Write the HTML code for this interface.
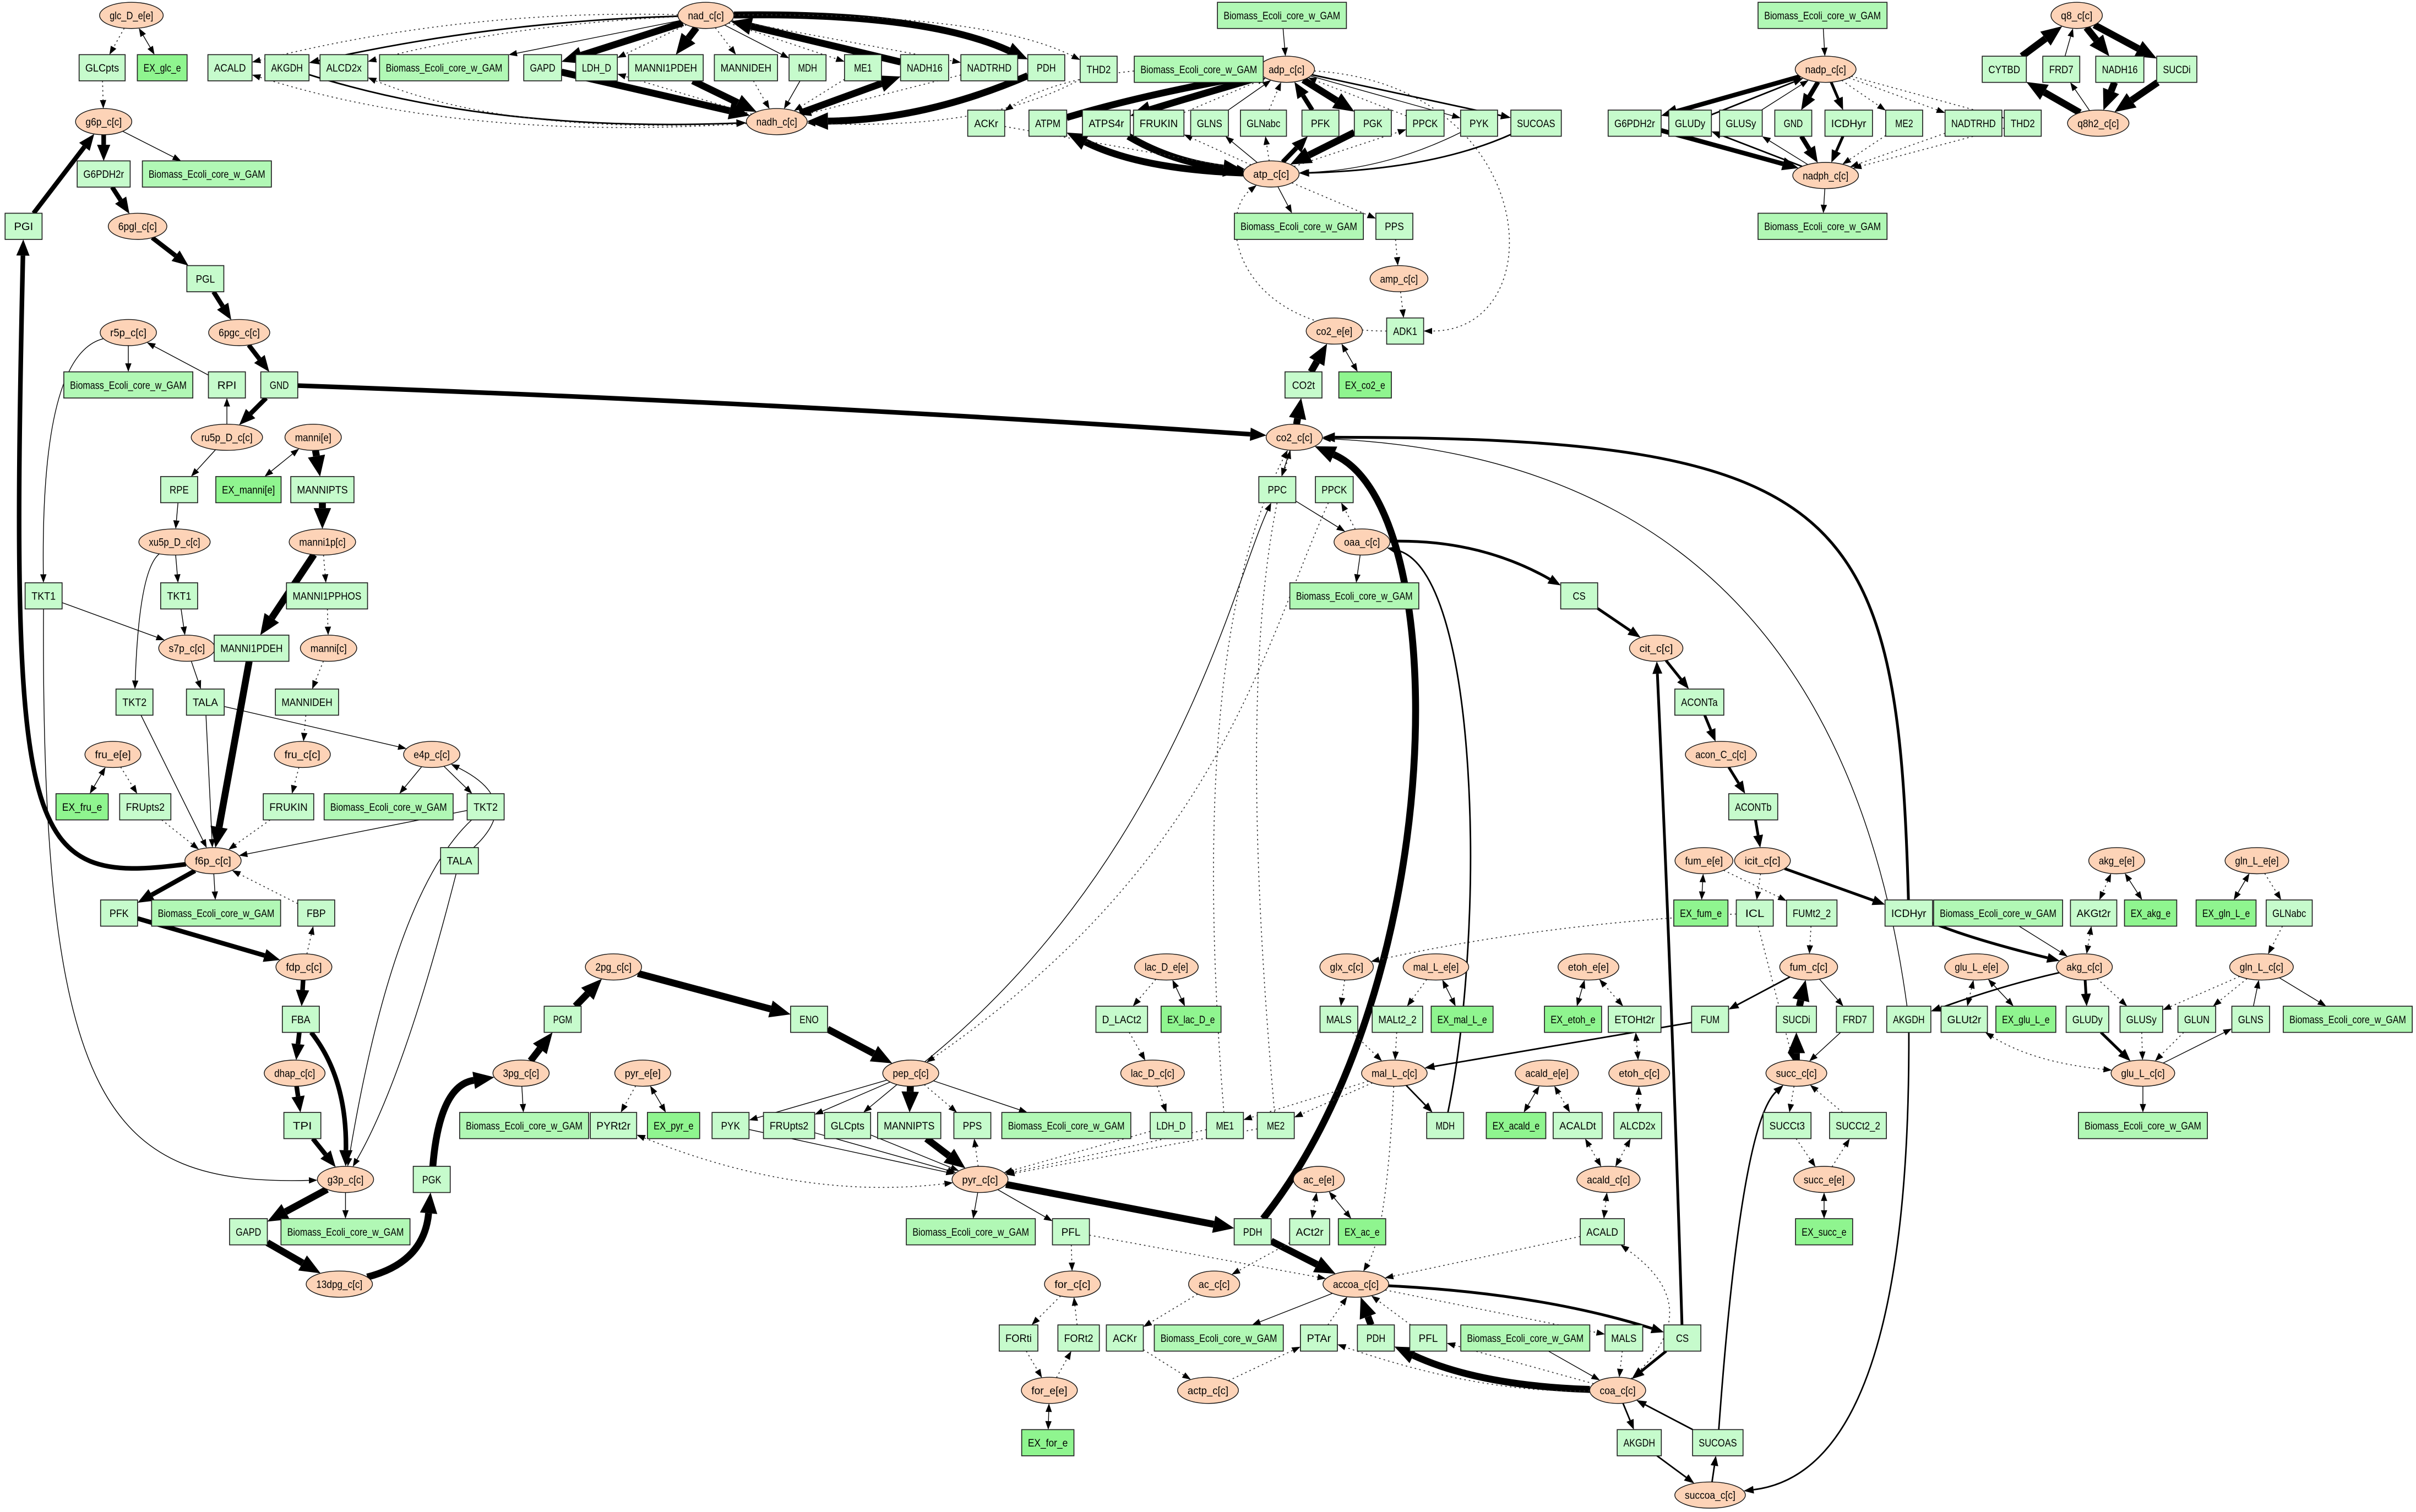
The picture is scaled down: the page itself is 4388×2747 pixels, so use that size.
<!DOCTYPE html>
<html><head><meta charset="utf-8"><style>
html,body{margin:0;padding:0;background:#fff;}
svg{display:block;}
text{font-family:"Liberation Sans",Arial,sans-serif;font-size:7px;fill:#000;}
</style></head><body>
<svg id="g" xmlns="http://www.w3.org/2000/svg" width="4388" height="2747" viewBox="0 0 1568 982"><g id="E"></g><g id="A"></g><g id="N"></g></svg>
<script>
const BM='Biomass_Ecoli_core_w_GAM';
const nodeTxt=`glcDe|glc_D_e[e]|e|85|10
GLCpts|=|b|66|44
EX_glc_e|=|d|105|44
g6p|g6p_c[c]|e|67|79
G6PDH2r|=|b|67|113
bm1|B|m|134|113
PGI|=|b|15|147
6pgl|6pgl_c[c]|e|89|147
PGL|=|b|133|181
6pgc|6pgc_c[c]|e|155|216
GND|=|b|181|250
r5p|r5p_c[c]|e|83|216
bm2|B|m|83|250
RPI|=|b|147|250
ru5p|ru5p_D_c[c]|e|147|284
manni_e|manni[e]|e|203|284
RPE|=|b|116|318
EX_manni|EX_manni[e]|d|161|318
MANNIPTS|=|b|209|318
manni1p|manni1p[c]|e|209|352
xu5p|xu5p_D_c[c]|e|113|352
TKT1a|TKT1|b|28|387
TKT1b|TKT1|b|116|387
MANNI1PPHOS|=|b|212|387
s7p|s7p_c[c]|e|121|421
MANNI1PDEH|=|b|163|421
manni_c|manni[c]|e|213|421
TKT2a|TKT2|b|87|456
TALAa|TALA|b|133|456
MANNIDEH|=|b|199|456
fru_e|fru_e[e]|e|73|490
fru_c|fru_c[c]|e|196|490
e4p|e4p_c[c]|e|280|490
EX_fru_e|=|d|53|524
FRUpts2|=|b|94|524
FRUKIN|=|b|187|524
bm10|B|m|252|524
TKT2b|TKT2|b|315|524
TALAb|TALA|b|298|559
f6p|f6p_c[c]|e|138|559
PFK|=|b|77|593
bm11|B|m|140|593
FBP|=|b|205|593
fdp|fdp_c[c]|e|197|628
FBA|=|b|195|662
dhap|dhap_c[c]|e|191|697
TPI|=|b|196|731
g3p|g3p_c[c]|e|224|766
GAPDb|GAPD|b|161|800
bm12|B|m|224|800
13dpg|13dpg_c[c]|e|220|834
PGKb|PGK|b|280|766
3pg|3pg_c[c]|e|338|697
bm13|B|m|340|731
PGM|=|b|365|662
2pg|2pg_c[c]|e|398|628
ENO|=|b|525|662
pep|pep_c[c]|e|591|697
bm14|B|m|692|731
PPSb|PPS|b|631|731
MANNIPTSb|MANNIPTS|b|590|731
GLCptsb|GLCpts|b|550|731
FRUpts2b|FRUpts2|b|512|731
PYKb|PYK|b|474|731
pyr_e|pyr_e[e]|e|417|697
PYRt2r|=|b|398|731
EX_pyr_e|=|d|437|731
pyr|pyr_c[c]|e|636|766
lac_e|lac_D_e[e]|e|757|628
D_LACt2|=|b|728|662
EX_lac_D_e|=|d|773|662
lac_c|lac_D_c[c]|e|748|697
LDH_Db|LDH_D|b|760|731
ME1b|ME1|b|795|731
ME2b|ME2|b|828|731
bm15|B|m|630|800
PFLb|PFL|b|695|800
PDHb|PDH|b|813|800
for_c|for_c[c]|e|696|834
FORti|=|b|661|869
FORt2|=|b|700|869
for_e|for_e[e]|e|681|903
EX_for_e|=|d|680|937
ac_e|ac_e[e]|e|856|766
ACt2r|=|b|850|800
EX_ac_e|=|d|884|800
ac_c|ac_c[c]|e|788|834
ACKrb|ACKr|b|730|869
bm16|B|m|791|869
actp|actp_c[c]|e|784|903
accoa|accoa_c[c]|e|880|834
PTAr|=|b|856|869
PDHc|PDH|b|893|869
PFLc|PFL|b|927|869
bm17|B|m|990|869
MALSb|MALS|b|1054|869
CSb|CS|b|1092|869
coa|coa_c[c]|e|1050|903
AKGDHc|AKGDH|b|1064|937
SUCOASb|SUCOAS|b|1115|937
succoa|succoa_c[c]|e|1110|971
ACALDb|ACALD|b|1040|800
acald_c|acald_c[c]|e|1044|766
ALCD2xb|ALCD2x|b|1063|731
ACALDt|=|b|1024|731
EX_acald_e|=|d|984|731
acald_e|acald_e[e]|e|1004|697
etoh_c|etoh_c[c]|e|1064|697
ETOHt2r|=|b|1061|662
EX_etoh_e|=|d|1021|662
etoh_e|etoh_e[e]|e|1031|628
mal_e|mal_L_e[e]|e|932|628
MALt2_2|=|b|907|662
EX_mal_L_e|=|d|949|662
glx|glx_c[c]|e|874|628
MALS|=|b|869|662
mal_c|mal_L_c[c]|e|905|697
MDHb|MDH|b|938|731
fum_e|fum_e[e]|e|1106|559
EX_fum_e|=|d|1104|593
ICL|=|b|1139|593
FUMt2_2|=|b|1176|593
fum_c|fum_c[c]|e|1174|628
FUM|=|b|1110|662
SUCDi|=|b|1166|662
FRD7|=|b|1204|662
succ_c|succ_c[c]|e|1166|697
SUCCt3|=|b|1160|731
SUCCt2_2|=|b|1206|731
succ_e|succ_e[e]|e|1184|766
EX_succ_e|=|d|1184|800
icit|icit_c[c]|e|1144|559
ACONTb|=|b|1138|524
acon|acon_C_c[c]|e|1117|490
ACONTa|=|b|1103|456
cit|cit_c[c]|e|1075|421
CS|=|b|1025|387
oaa|oaa_c[c]|e|884|352
bm7|B|m|879|387
PPC|=|b|829|318
PPCKb|PPCK|b|866|318
co2c|co2_c[c]|e|840|284
CO2t|=|b|846|250
EX_co2_e|=|d|886|250
co2e|co2_e[e]|e|866|215
ADK1|=|b|912|215
amp|amp_c[c]|e|908|181
PPSa|PPS|b|905|147
bm6|B|m|843|147
atp|atp_c[c]|e|825|113
adp|adp_c[c]|e|835|45
bm5|B|m|832|10
bm4|B|m|778|45
THD2a|THD2|b|713|45
ACKra|ACKr|b|640|80
ATPM|=|b|680|80
ATPS4r|=|b|718|80
FRUKINa|FRUKIN|b|752|80
GLNSa|GLNS|b|785|80
GLNabca|GLNabc|b|820|80
PFKa|PFK|b|857|80
PGKa|PGK|b|891|80
PPCKa|PPCK|b|925|80
PYKa|PYK|b|960|80
SUCOASa|SUCOAS|b|997|80
nad|nad_c[c]|e|458|10
nadh|nadh_c[c]|e|504|79
ACALDa|ACALD|b|149|44
AKGDHa|AKGDH|b|186|44
ALCD2xa|ALCD2x|b|223|44
bm3|B|m|288|44
GAPDa|GAPD|b|352|44
LDH_Da|LDH_D|b|387|44
MANNI1PDEHa|MANNI1PDEH|b|432|44
MANNIDEHa|MANNIDEH|b|484|44
MDHa|MDH|b|524|44
ME1a|ME1|b|560|44
NADH16a|NADH16|b|600|44
NADTRHDa|NADTRHD|b|642|44
PDHa|PDH|b|679|44
bm8|B|m|1183|10
nadp|nadp_c[c]|e|1185|45
G6PDH2ra|G6PDH2r|b|1061|80
GLUDya|GLUDy|b|1097|80
GLUSya|GLUSy|b|1130|80
GNDa|GND|b|1164|80
ICDHyra|ICDHyr|b|1200|80
ME2a|ME2|b|1236|80
NADTRHDb|NADTRHD|b|1281|80
THD2b|THD2|b|1313|80
nadph|nadph_c[c]|e|1185|114
bm9|B|m|1183|147
q8|q8_c[c]|e|1348|10
CYTBD|=|b|1301|45
FRD7a|FRD7|b|1338|45
NADH16b|NADH16|b|1376|45
SUCDia|SUCDi|b|1413|45
q8h2|q8h2_c[c]|e|1362|80
akg_e|akg_e[e]|e|1374|559
AKGt2r|=|b|1359|593
EX_akg_e|=|d|1396|593
gln_e|gln_L_e[e]|e|1465|559
EX_gln_L_e|=|d|1445|593
GLNabc|=|b|1486|593
ICDHyr|=|b|1239|593
bm18|B|m|1297|593
akg_c|akg_c[c]|e|1353|628
glu_e|glu_L_e[e]|e|1283|628
gln_c|gln_L_c[c]|e|1468|628
AKGDH|=|b|1239|662
GLUt2r|=|b|1275|662
EX_glu_L_e|=|d|1315|662
GLUDy|=|b|1355|662
GLUSy|=|b|1390|662
GLUN|=|b|1426|662
GLNS|=|b|1461|662
bm19|B|m|1524|662
glu_c|glu_L_c[c]|e|1391|697
bm20|B|m|1391|731`;
const N={};
function cw(c){if(/[A-Z]/.test(c))return 4.3;if(/[0-9]/.test(c))return 3.5;if(/[\[\]_]/.test(c))return 2.6;if(/[mw]/.test(c))return 4.6;if(/[ijl]/.test(c))return 1.6;return 3.3;}
const NS='http://www.w3.org/2000/svg';
function el(t,a,p){const e=document.createElementNS(NS,t);for(const k in a)e.setAttribute(k,a[k]);p.appendChild(e);return e;}
const GN=document.getElementById('N'),GE=document.getElementById('E'),GA=document.getElementById('A');
nodeTxt.split('\n').forEach(l=>{let [id,lab,t,x,y]=l.split('|');if(lab==='=')lab=id;if(lab==='B')lab=BM;x=parseFloat(x);y=parseFloat(y);
 let tw=0;for(const c of lab)tw+=cw(c);tw*=0.96;
 let w,h=17;if(t==='e'){w=tw+13;}else{w=Math.max(24,tw+8);}
 N[id]={x,y,w,h,t};
 if(t==='e')el('ellipse',{cx:x,cy:y,rx:w/2,ry:h/2,fill:'#fdd3b7',stroke:'#111','stroke-width':0.5},GN);
 else el('rect',{x:x-w/2,y:y-h/2,width:w,height:h,fill:t==='d'?'#8ff58f':t==='m'?'#b1f8b5':'#c6fbcc',stroke:'#222','stroke-width':0.6},GN);
 const tx=el('text',{x:x,y:y+2.5,'text-anchor':'middle',textLength:tw.toFixed(1),lengthAdjust:'spacingAndGlyphs'},GN);tx.textContent=lab;
});
function clip(n,px,py){let dx=px-n.x,dy=py-n.y;if(dx===0&&dy===0)dy=1;let t;
 if(n.t==='e'){t=1/Math.sqrt((dx/(n.w/2))**2+(dy/(n.h/2))**2);}else{t=Math.min((n.w/2)/Math.abs(dx||1e-9),(n.h/2)/Math.abs(dy||1e-9));}
 return [n.x+dx*t,n.y+dy*t];}
function arrow(tip,from,w){let dx=tip[0]-from[0],dy=tip[1]-from[1],L=Math.hypot(dx,dy)||1;dx/=L;dy/=L;
 const al=4.5+w*2,hw=1.6+w*0.9;const bx=tip[0]-dx*al,by=tip[1]-dy*al;
 el('polygon',{points:`${tip[0]},${tip[1]} ${bx-dy*hw},${by+dx*hw} ${bx+dy*hw},${by-dx*hw}`,fill:'#000'},GA);
 return [bx,by];}
function E(a,b,w,st,cx,cy,dx2,dy2){const A=N[a],B=N[b];if(!A||!B)return;const dot=st&&st.indexOf('d')>=0,bi=st&&st.indexOf('b')>=0;
 const hasC=cx!==undefined,cub=dx2!==undefined;
 const c1=hasC?[cx,cy]:[B.x,B.y];const c2=cub?[dx2,dy2]:(hasC?[cx,cy]:[A.x,A.y]);
 let p0=clip(A,c1[0],c1[1]),p1=clip(B,c2[0],c2[1]);
 let e1=arrow(p1,hasC?c2:p0,dot?0.5:w);let s0=p0;if(bi)s0=arrow(p0,hasC?c1:p1,dot?0.5:w);
 let d=cub?`M${s0[0]},${s0[1]} C${cx},${cy} ${dx2},${dy2} ${e1[0]},${e1[1]}`:hasC?`M${s0[0]},${s0[1]} Q${cx},${cy} ${e1[0]},${e1[1]}`:`M${s0[0]},${s0[1]} L${e1[0]},${e1[1]}`;
 el('path',{d,fill:'none',stroke:dot?'#333':'#000','stroke-width':dot?0.6:w,'stroke-dasharray':dot?'1 2':'none'},GE);}
const T=0.5,M=1.0,K=1.8,H=3,X=4.5;
E('glcDe','GLCpts',T,'d');E('glcDe','EX_glc_e',T,'b');E('GLCpts','g6p',T,'d');
E('g6p','G6PDH2r',H);E('g6p','bm1',T);E('G6PDH2r','6pgl',H);E('PGI','g6p',H);E('f6p','PGI',H,'',15,575,6,550);
E('6pgl','PGL',H);E('PGL','6pgc',H);E('6pgc','GND',H);E('GND','ru5p',H);E('GND','co2c',H,'',520,262);
E('ru5p','RPI',T);E('RPI','r5p',T);E('r5p','bm2',T);E('r5p','TKT1a',T,'',26,230);
E('ru5p','RPE',T);E('RPE','xu5p',T);E('manni_e','EX_manni',T,'b');E('manni_e','MANNIPTS',X);E('MANNIPTS','manni1p',X);
E('manni1p','MANNI1PDEH',X);E('MANNI1PDEH','f6p',X);E('manni1p','MANNI1PPHOS',T,'d');E('MANNI1PPHOS','manni_c',T,'d');
E('manni_c','MANNIDEH',T,'d');E('MANNIDEH','fru_c',T,'d');E('fru_c','FRUKIN',T,'d');E('FRUKIN','f6p',T,'d');
E('xu5p','TKT1b',T);E('TKT1b','s7p',T);E('TKT1a','s7p',T);E('xu5p','TKT2a',T,'',90,370);E('s7p','TALAa',T);
E('TALAa','e4p',T);E('TALAa','f6p',T);E('TKT2a','f6p',T);E('TKT1a','g3p',T,'',26,720,70,770);
E('e4p','TKT2b',T);E('TKT2b','f6p',T);E('TKT2b','g3p',T,'',255,580);E('TALAb','e4p',T,'',340,520);E('TALAb','g3p',T,'',262,700);
E('fru_e','EX_fru_e',T,'b');E('fru_e','FRUpts2',T,'d');E('FRUpts2','f6p',T,'d');E('e4p','bm10',T);
E('f6p','PFK',H);E('PFK','fdp',H);E('f6p','bm11',T);E('FBP','f6p',T,'d');E('fdp','FBP',T,'d');
E('fdp','FBA',H);E('FBA','dhap',H);E('FBA','g3p',H,'',225,700);E('dhap','TPI',H);E('TPI','g3p',H);
E('g3p','GAPDb',X);E('g3p','bm12',T);E('GAPDb','13dpg',X);E('13dpg','PGKb',X,'',275,820);E('PGKb','3pg',X,'',285,705);
E('3pg','PGM',X);E('3pg','bm13',T);E('PGM','2pg',X);E('2pg','ENO',X);E('ENO','pep',X);
E('pep','PYKb',T);E('pep','FRUpts2b',T);E('pep','GLCptsb',T);E('pep','MANNIPTSb',X);E('pep','PPSb',T,'d');E('pep','bm14',T);
E('pep','PPC',T,'',760,560,800,380);E('PPCKb','pep',T,'d',820,420,790,560);
E('MANNIPTSb','pyr',X);E('PYKb','pyr',T);E('FRUpts2b','pyr',T);E('GLCptsb','pyr',T);E('pyr','PPSb',T,'d');
E('pyr','PDHb',X);E('pyr','bm15',T);E('pyr','PFLb',T);E('PYRt2r','pyr',T,'db',520,780);E('pyr_e','PYRt2r',T,'d');E('pyr_e','EX_pyr_e',T,'b');
E('LDH_Db','pyr',T,'d');E('lac_c','LDH_Db',T,'d');E('D_LACt2','lac_c',T,'d');E('lac_e','D_LACt2',T,'d');E('lac_e','EX_lac_D_e',T,'b');
E('ME1b','pyr',T,'d');E('ME2b','pyr',T,'d');E('PDHb','co2c',X,'',940,640,945,330);E('PDHb','accoa',X);
E('ME1b','co2c',T,'d',770,420);E('ME2b','co2c',T,'d',800,420);
E('PFLb','for_c',T,'d');E('PFLb','accoa',T,'d');E('for_c','FORti',T,'d');E('FORti','for_e',T,'d');E('for_e','FORt2',T,'d');E('FORt2','for_c',T,'d');E('for_e','EX_for_e',T,'b');
E('ac_e','EX_ac_e',T,'b');E('ac_e','ACt2r',T,'db');E('ACt2r','ac_c',T,'d');E('ac_c','ACKrb',T,'d');E('ACKrb','actp',T,'d');E('actp','PTAr',T,'d');E('PTAr','accoa',T,'d');
E('accoa','bm16',T);E('accoa','CSb',K,'',1000,840);E('CSb','coa',K);E('CSb','cit',K,'',1085,640);
E('accoa','MALSb',T,'d');E('MALSb','coa',T,'d');E('coa','PDHc',X,'',960,900);E('PDHc','accoa',X);E('coa','PFLc',T,'d');E('PFLc','accoa',T,'d');
E('bm17','coa',T);E('coa','PTAr',T,'d',960,905);E('ACALDb','accoa',T,'d');E('acald_c','ACALDb',T,'db');E('coa','ACALDb',T,'d',1110,850);
E('SUCOASb','coa',M);E('coa','AKGDHc',M);E('AKGDHc','succoa',M);E('succoa','SUCOASb',M);E('SUCOASb','succ_c',M,'',1130,730);
E('AKGDH','succoa',M,'',1240,955);E('mal_c','accoa',T,'d',900,800);
E('acald_e','EX_acald_e',T,'b');E('acald_e','ACALDt',T,'db');E('ACALDt','acald_c',T,'db');E('acald_c','ALCD2xb',T,'db');E('ALCD2xb','etoh_c',T,'db');
E('etoh_c','ETOHt2r',T,'db');E('ETOHt2r','etoh_e',T,'db');E('etoh_e','EX_etoh_e',T,'b');
E('mal_e','EX_mal_L_e',T,'b');E('mal_e','MALt2_2',T,'d');E('MALt2_2','mal_c',T,'d');
E('glx','MALS',T,'d');E('MALS','mal_c',T,'d');E('ICL','glx',T,'d',1000,600);E('FUM','mal_c',M);
E('mal_c','MDHb',M);E('MDHb','oaa',M,'',965,600,960,370);E('mal_c','ME1b',T,'d');E('mal_c','ME2b',T,'d');
E('fum_c','FUM',M);E('fum_e','FUMt2_2',T,'d');E('FUMt2_2','fum_c',T,'d');E('fum_e','EX_fum_e',T,'b');
E('SUCDi','fum_c',X);E('succ_c','SUCDi',X);E('fum_c','FRD7',T);E('FRD7','succ_c',T);
E('succ_c','SUCCt3',T,'d');E('SUCCt3','succ_e',T,'d');E('succ_e','SUCCt2_2',T,'d');E('SUCCt2_2','succ_c',T,'d');E('succ_e','EX_succ_e',T,'b');
E('ICL','succ_c',T,'d');E('icit','ICL',T,'d');
E('icit','ICDHyr',K);E('ICDHyr','akg_c',K,'',1280,610);E('ICDHyr','co2c',K,'',1232,330,1200,284);E('AKGDH','co2c',T,'',1190,300);
E('ACONTb','icit',K);E('acon','ACONTb',K);E('ACONTa','acon',K);E('cit','ACONTa',K);E('CS','cit',K);E('oaa','CS',K,'',960,350);
E('PPC','oaa',T);E('oaa','PPCKb',T,'d');E('oaa','bm7',T);E('co2c','PPC',T);
E('co2c','CO2t',X);E('CO2t','co2e',X);E('co2e','EX_co2_e',T,'b');
E('akg_c','AKGDH',M,'',1300,640);E('akg_e','AKGt2r',T,'db');E('AKGt2r','akg_c',T,'db');E('akg_e','EX_akg_e',T,'b');
E('akg_c','GLUDy',K);E('GLUDy','glu_c',K);E('akg_c','GLUSy',T,'d');E('GLUSy','glu_c',T,'d');
E('gln_c','GLUN',T,'d');E('GLUN','glu_c',T,'d');E('gln_c','GLUSy',T,'d');E('glu_c','GLNS',T);E('GLNS','gln_c',T);
E('gln_c','bm19',T);E('glu_c','bm20',T);E('glu_e','GLUt2r',T,'db');E('GLUt2r','glu_c',T,'db',1320,690);E('glu_e','EX_glu_L_e',T,'b');
E('gln_e','GLNabc',T,'d');E('GLNabc','gln_c',T,'d');E('gln_e','EX_gln_L_e',T,'b');E('bm18','akg_c',T);
E('nad','ACALDa',T,'d',300,6);E('nadh','ACALDa',T,'d',300,92);E('nad','AKGDHa',M,'',320,14);E('AKGDHa','nadh',M,'',320,86);
E('nad','ALCD2xa',T,'d',330,16);E('nadh','ALCD2xa',T,'d',330,88);E('nad','bm3',T);
E('nad','GAPDa',X);E('GAPDa','nadh',X);E('nadh','LDH_Da',T,'d');E('nad','LDH_Da',T,'d');
E('nad','MANNI1PDEHa',X);E('MANNI1PDEHa','nadh',X);E('nad','MANNIDEHa',T,'d');E('MANNIDEHa','nadh',T,'d');
E('nad','MDHa',T);E('MDHa','nadh',T);E('nad','ME1a',T,'d');E('ME1a','nadh',T,'d');
E('nadh','NADH16a',X);E('NADH16a','nad',X);E('nad','NADTRHDa',T,'d');E('NADTRHDa','nadh',T,'d');
E('nad','PDHa',X,'',600,8);E('PDHa','nadh',X,'',600,78);E('nad','THD2a',T,'d',640,8);E('THD2a','nadh',T,'d',640,85);
E('bm5','adp',T);E('atp','ATPM',X,'',740,110);E('ATPM','adp',X,'',740,62);E('adp','ATPS4r',X,'',770,64);E('ATPS4r','atp',X,'',760,105);
E('atp','PFKa',H);E('PFKa','adp',H);E('adp','PGKa',X);E('PGKa','atp',X);E('adp','PYKa',T);E('PYKa','atp',T,'',900,110);
E('adp','SUCOASa',M);E('SUCOASa','atp',M,'',930,110);E('atp','PPCKa',T,'d');E('PPCKa','adp',T,'d');
E('atp','GLNabca',T,'d');E('GLNabca','adp',T,'d');E('atp','GLNSa',T);E('GLNSa','adp',T);E('atp','FRUKINa',T,'d');E('FRUKINa','adp',T,'d');
E('adp','ACKra',T,'d',700,40);E('ACKra','atp',T,'d');E('atp','bm6',T);E('atp','PPSa',T,'d');E('PPSa','amp',T,'d');E('amp','ADK1',T,'d');
E('adp','ADK1',T,'d',1000,55,1010,215);E('ADK1','atp',T,'d',800,215,790,140);
E('bm8','nadp',T);E('nadp','G6PDH2ra',H);E('G6PDH2ra','nadph',H);E('nadph','GLUDya',M);E('GLUDya','nadp',M);
E('nadph','GLUSya',T);E('GLUSya','nadp',T);E('nadp','GNDa',H);E('GNDa','nadph',H);E('nadp','ICDHyra',K);E('ICDHyra','nadph',K);
E('nadp','ME2a',T,'d');E('ME2a','nadph',T,'d');E('nadp','NADTRHDb',T,'d');E('NADTRHDb','nadph',T,'d');E('nadp','THD2b',T,'d');E('THD2b','nadph',T,'d');E('nadph','bm9',T);
E('q8','NADH16b',X);E('NADH16b','q8h2',X);E('q8','SUCDia',X);E('SUCDia','q8h2',X);E('q8h2','CYTBD',X);E('CYTBD','q8',X);E('q8h2','FRD7a',T);E('FRD7a','q8',T);
</script>
</body></html>
